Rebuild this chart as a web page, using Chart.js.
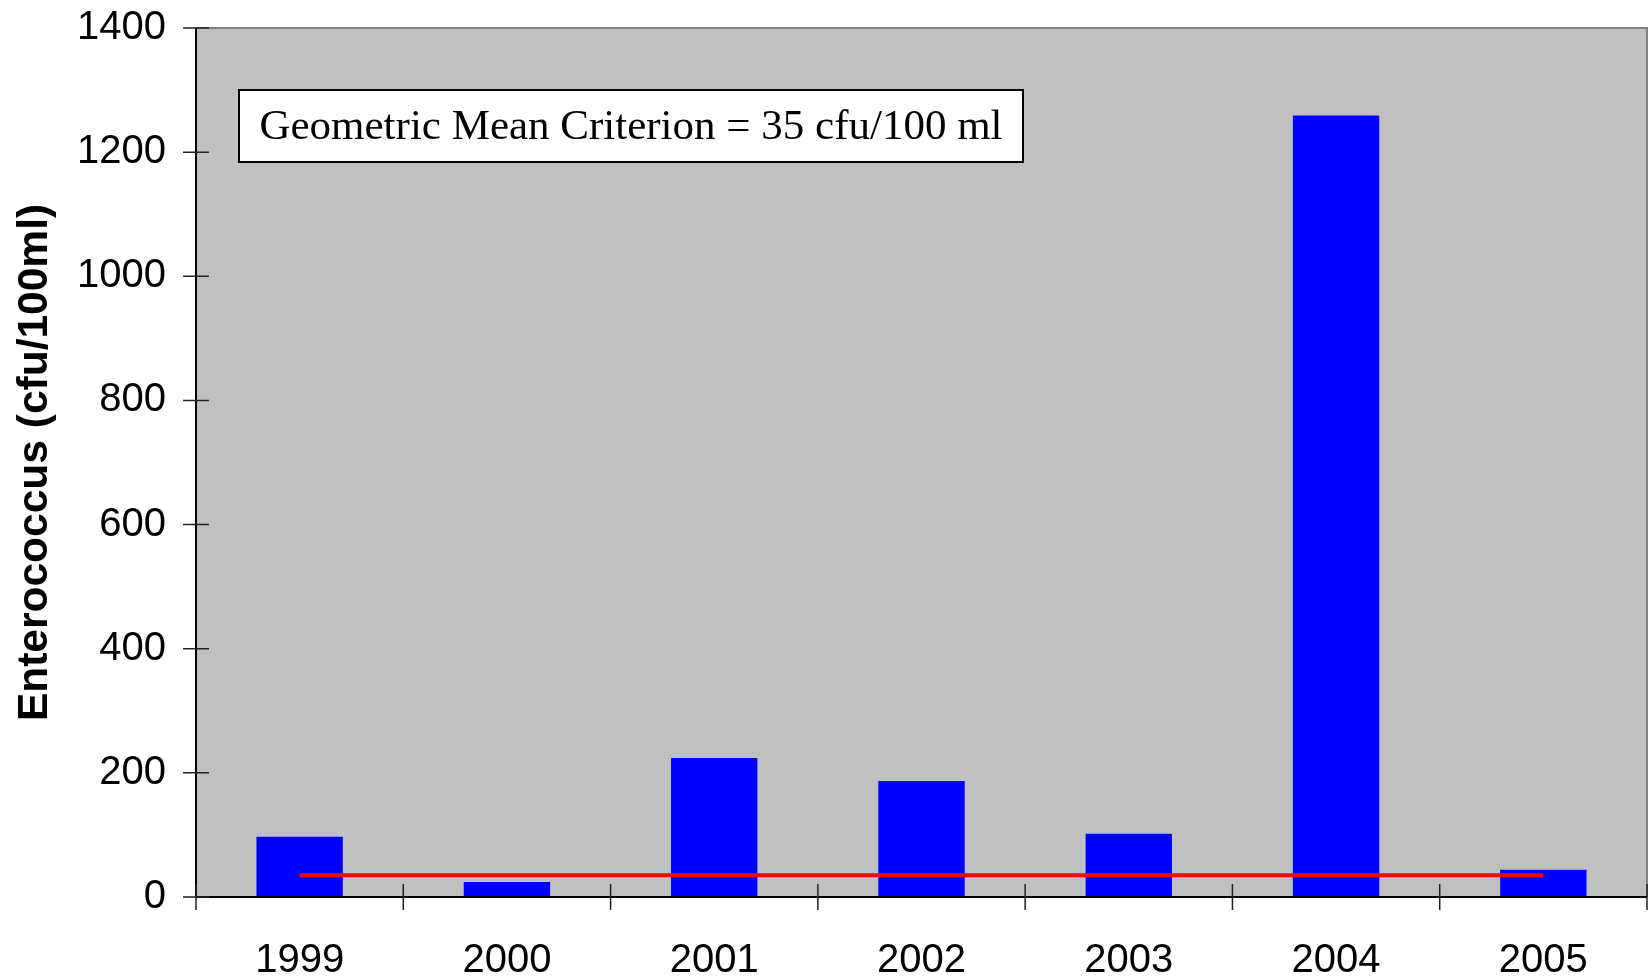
<!DOCTYPE html>
<html><head><meta charset="utf-8">
<script src="https://cdn.jsdelivr.net/npm/chart.js@4.4.0/dist/chart.umd.min.js"></script>
<style>html,body{margin:0;padding:0;background:#fff;} canvas{display:block;}</style>
</head><body>
<canvas id="c" width="1652" height="980"></canvas>
<script>
const years = ['1999', '2000', '2001', '2002', '2003', '2004', '2005'];
const enterococcus = [97, 24, 224, 187, 102, 1259, 44];
const criterion = [35, 35, 35, 35, 35, 35, 35];
const yMin = 0, yMax = 1400, yStep = 200;
const yTitle = 'Enterococcus (cfu/100ml)';
const criterionLabel = 'Geometric Mean Criterion = 35 cfu/100 ml';

const SANS = '"Liberation Sans", Arial, sans-serif';
const SERIF = '"Liberation Serif", "Times New Roman", serif';

const framePlugin = {
  id: 'frame',
  beforeDraw(chart) {
    const {ctx, chartArea: a} = chart;
    ctx.save();
    ctx.fillStyle = '#C0C0C0';
    ctx.fillRect(a.left, a.top, a.right - a.left, a.bottom - a.top);
    ctx.restore();
  },
  afterDatasetsDraw(chart) {
    const {ctx, chartArea: a, scales} = chart;
    const xs = scales.x, ys = scales.y;
    ctx.save();
    ctx.strokeStyle = '#808080';
    ctx.lineWidth = 2;
    ctx.beginPath();
    ctx.moveTo(a.left, a.top); ctx.lineTo(a.right, a.top); ctx.lineTo(a.right, a.bottom);
    ctx.stroke();
    ctx.strokeStyle = '#000';
    ctx.lineWidth = 2;
    ctx.beginPath();
    ctx.moveTo(a.left, a.top); ctx.lineTo(a.left, a.bottom); ctx.lineTo(a.right, a.bottom);
    ctx.stroke();
    ctx.lineWidth = 1.5;
    ctx.strokeStyle = '#222';
    ctx.beginPath();
    ys.ticks.forEach(t => {
      const y = ys.getPixelForValue(t.value);
      ctx.moveTo(a.left - 13, y); ctx.lineTo(a.left + 13, y);
    });
    for (let i = 0; i <= years.length; i++) {
      const x = xs.getPixelForValue(i - 0.5);
      ctx.moveTo(x, a.bottom - 13); ctx.lineTo(x, a.bottom + 13);
    }
    ctx.stroke();
    ctx.restore();
  },
  afterDraw(chart) {
    const {ctx} = chart;
    ctx.save();
    const bx = 239, by = 90, bw = 784, bh = 72;
    ctx.fillStyle = '#fff';
    ctx.fillRect(bx, by, bw, bh);
    ctx.strokeStyle = '#000';
    ctx.lineWidth = 2;
    ctx.strokeRect(bx, by, bw, bh);
    ctx.fillStyle = '#000';
    ctx.font = '43px ' + SERIF;
    ctx.textAlign = 'center';
    ctx.textBaseline = 'middle';
    ctx.fillText(criterionLabel, bx + bw / 2, by + bh / 2 + 2);
    ctx.restore();
  }
};

new Chart(document.getElementById('c'), {
  data: {
    labels: years,
    datasets: [
      {
        type: 'line',
        data: criterion,
        borderColor: '#FF0000',
        borderWidth: 4,
        pointRadius: 0,
        fill: false,
        order: 0
      },
      {
        type: 'bar',
        data: enterococcus,
        backgroundColor: '#0000FF',
        borderWidth: 0,
        barPercentage: 1,
        categoryPercentage: 0.4167,
        order: 1
      }
    ]
  },
  options: {
    responsive: false,
    animation: false,
    devicePixelRatio: 1,
    layout: {padding: {top: 28, right: 5, left: 0, bottom: 0}},
    plugins: {legend: {display: false}, tooltip: {enabled: false}},
    scales: {
      x: {
        offset: true,
        grid: {display: true, drawOnChartArea: false, drawTicks: true, tickLength: 40, color: 'rgba(0,0,0,0)'},
        border: {display: false},
        ticks: {color: '#000', font: {family: SANS, size: 40}, padding: 0, maxRotation: 0},
        afterFit(s) { s.height = 83; }
      },
      y: {
        min: yMin, max: yMax,
        grid: {display: true, drawOnChartArea: false, drawTicks: true, tickLength: 30, color: 'rgba(0,0,0,0)'},
        border: {display: false},
        ticks: {stepSize: yStep, color: '#000', font: {family: SANS, size: 40}, padding: 0,
                callback: v => String(v)},
        title: {display: true, text: yTitle, color: '#000',
                font: {family: SANS, size: 42.5, weight: 'bold'}, padding: {top: 10, bottom: 0}},
        afterFit(s) { s.width = 196; }
      }
    }
  },
  plugins: [framePlugin]
});
</script>
</body></html>
